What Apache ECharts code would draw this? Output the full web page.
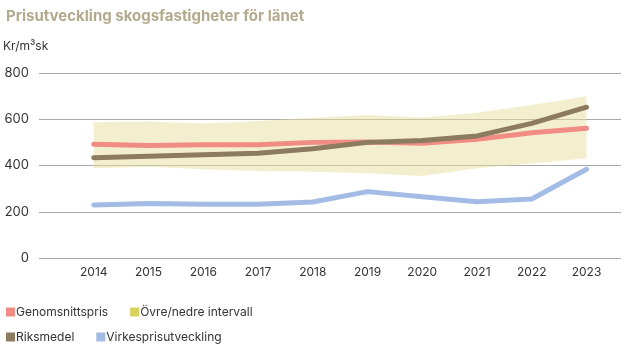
<!DOCTYPE html>
<html><head><meta charset="utf-8">
<script src="https://cdn.jsdelivr.net/npm/echarts@6/dist/echarts.min.js"></script>
<style>html,body{margin:0;padding:0;background:#fff}#c{width:640px;height:350px}</style>
</head><body><div id="c"></div>
<script>
const years = [2014, 2015, 2016, 2017, 2018, 2019, 2020, 2021, 2022, 2023];
const genomsnittspris = [492, 487, 490, 490, 500, 502, 496, 513, 542, 561];
const riksmedel = [434, 440, 447, 453, 472, 500, 508, 528, 582, 652];
const virkespris = [229, 236, 232, 232, 242, 287, 265, 243, 255, 384];
const bandUpper = [587, 590, 582, 592, 606, 618, 608, 628, 662, 700];
const bandLower = [388, 395, 384, 376, 373, 366, 355, 388, 409, 431];
const yTicks = [0, 200, 400, 600, 800];

const pts = arr => years.map((y, i) => [y, arr[i]]);
const bandData = years.map((y, i) => [y, bandLower[i], bandUpper[i]]);
const font = 'Inter, "Noto Sans", sans-serif';

const chart = echarts.init(document.getElementById('c'), null, {renderer: 'canvas'});
chart.setOption({
  animation: false,
  textStyle: {fontFamily: font},
  title: [
    {text: 'Prisutveckling skogsfastigheter för länet', left: 1, top: 4,
     textStyle: {fontFamily: font, fontSize: 15, fontWeight: 'bold', color: '#b3aa8e'}},
    {text: 'Kr/m³sk', left: -2, top: 35,
     textStyle: {fontFamily: font, fontSize: 12, fontWeight: 'normal', color: '#333'}}
  ],
  legend: [
    {data: [{name: 'Genomsnittspris'}, {name: 'Övre/nedre intervall', itemStyle: {color: '#d9d35e'}}],
     left: 1, top: 301, icon: 'rect', itemWidth: 9, itemHeight: 9, itemGap: 22,
     textStyle: {fontFamily: font, fontSize: 12, color: '#333', padding: [0, 0, 0, -4]}},
    {data: [{name: 'Riksmedel'}, {name: 'Virkesprisutveckling'}],
     left: 1, top: 326, icon: 'rect', itemWidth: 9, itemHeight: 9, itemGap: 22,
     textStyle: {fontFamily: font, fontSize: 12, color: '#333', padding: [0, 0, 0, -4]}}
  ],
  grid: {left: 39, right: 19, top: 73, bottom: 92},
  xAxis: {
    type: 'value', min: 2013, max: 2023.63, interval: 1,
    axisLine: {show: false}, axisTick: {show: false}, splitLine: {show: false},
    axisLabel: {margin: 8, fontSize: 12, color: '#333', fontFamily: font,
      formatter: v => (years.indexOf(v) >= 0 ? String(v) : '')}
  },
  yAxis: {
    type: 'value', min: 0, max: 800, interval: 200,
    axisLine: {show: false}, axisTick: {show: false},
    splitLine: {lineStyle: {color: '#a8a8a8', width: 1}},
    axisLabel: {margin: 10, fontSize: 13, color: '#333', fontFamily: font,
      formatter: v => (yTicks.indexOf(v) >= 0 ? String(v) : '')}
  },
  series: [
    {name: 'Övre/nedre intervall', type: 'custom', data: bandData, z: 1,
     itemStyle: {color: '#d9d35e'},
     encode: {x: 0, y: [1, 2]},
     renderItem: function (params, api) {
       if (params.dataIndex !== 0) return null;
       const top = bandData.map(d => api.coord([d[0], d[2]]));
       const bot = bandData.slice().reverse().map(d => api.coord([d[0], d[1]]));
       return {type: 'polygon', shape: {points: top.concat(bot)},
               style: {fill: 'rgba(231,223,157,0.5)'}, silent: true};
     }},
    {name: 'Virkesprisutveckling', type: 'line', data: pts(virkespris), symbol: 'none',
     itemStyle: {color: '#a3bce6'}, lineStyle: {width: 5, color: '#a3bce6', cap: 'round', join: 'round'}, z: 5},
    {name: 'Genomsnittspris', type: 'line', data: pts(genomsnittspris), symbol: 'none',
     itemStyle: {color: '#f08c84'}, lineStyle: {width: 5, color: '#f08c84', cap: 'round', join: 'round'}, z: 5},
    {name: 'Riksmedel', type: 'line', data: pts(riksmedel), symbol: 'none',
     itemStyle: {color: '#8c7b5f'}, lineStyle: {width: 5, color: '#8c7b5f', cap: 'round', join: 'round'}, z: 6}
  ]
});
</script></body></html>
